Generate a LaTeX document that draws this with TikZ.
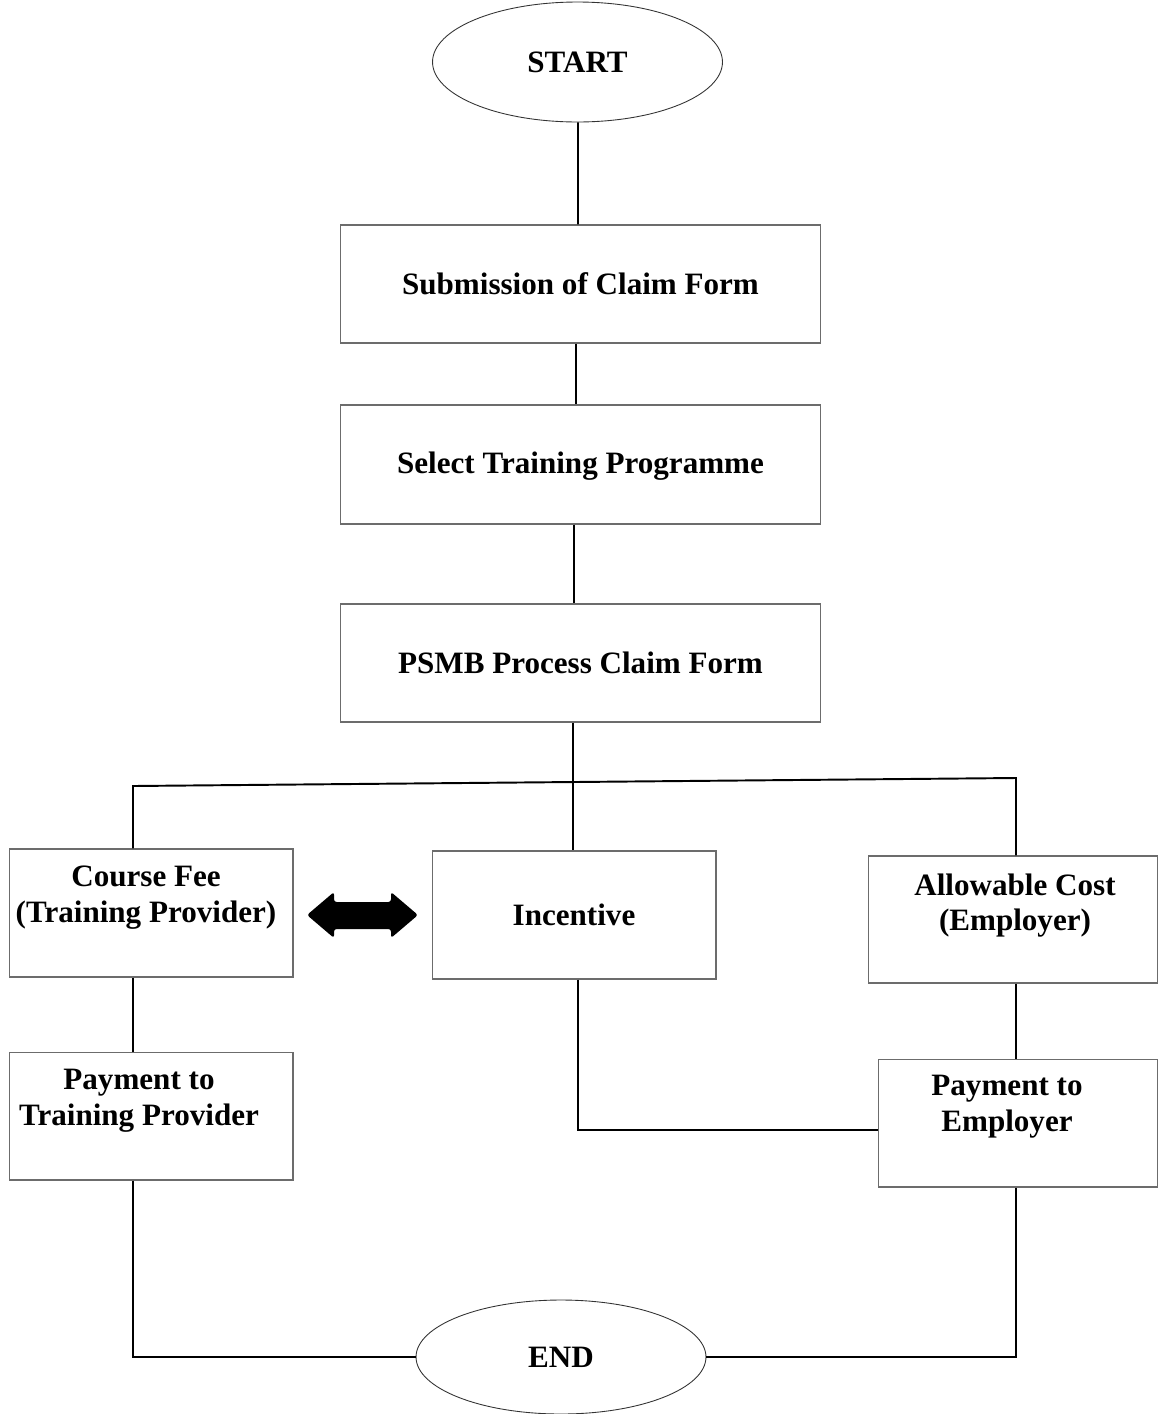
\documentclass[tikz,border=0pt]{standalone}
\usepackage{fontspec}
\setmainfont{Liberation Serif}
\usetikzlibrary{shapes.geometric}
\begin{document}
\begin{tikzpicture}[x=0.02cm,y=-0.02cm,
  txt/.style={font=\bfseries\fontsize{17.7}{20.4}\selectfont, align=center},
  box/.style={draw=gray!85!black, line width=0.6pt, inner sep=0pt},
  term/.style={ellipse, draw=black!80, line width=0.5pt, minimum width=5.8cm, inner sep=0pt},
  wire/.style={line width=1.1pt}]
\useasboundingbox (0,0) rectangle (1158,1414);
% start and end
\node[term, txt, minimum height=2.4cm] (start) at (577.5,62) {START};
\node[term, txt, minimum height=2.28cm] (end) at (561,1357) {END};
% main column
\node[box, txt, minimum width=9.62cm, minimum height=2.36cm] (submit) at (580.5,284) {Submission of Claim Form};
\node[box, txt, minimum width=9.62cm, minimum height=2.38cm] (select) at (580.5,464.5) {};
\node[txt] (selecttxt) at ([shift={(0,2)}]select.center) {Select Training Programme};
\node[box, txt, minimum width=9.62cm, minimum height=2.36cm] (process) at (580.5,663) {PSMB Process Claim Form};
% three branches
\node[box, minimum width=5.68cm, minimum height=2.56cm] (fee) at (151,913) {};
\node[box, txt, minimum width=5.68cm, minimum height=2.56cm] (incent) at (574,915) {Incentive};
\node[box, minimum width=5.8cm, minimum height=2.54cm] (allow) at (1013,919.5) {};
\node[box, minimum width=5.68cm, minimum height=2.56cm] (paytp) at (151,1116) {};
\node[box, minimum width=5.6cm, minimum height=2.56cm] (payemp) at (1018,1123) {};
\node[txt] (feetxt) at ([shift={(-5,-15)}]fee.center) {Course Fee\\(Training Provider)};
\node[txt] (allowtxt) at ([shift={(2,-14)}]allow.center) {Allowable Cost\\(Employer)};
\node[txt] (paytptxt) at ([shift={(-12,-15)}]paytp.center) {Payment to\\Training Provider};
\node[txt] (payemptxt) at ([shift={(-11,-16)}]payemp.center) {Payment to\\Employer};
% connectors
\coordinate (brL) at (133,786);
\coordinate (brR) at (1016,778);
\coordinate (payin) at ([shift={(0,7)}]payemp.west);
\draw[wire] ([shift={(0.5,0)}]start.south) -- ([shift={(-2.5,0)}]submit.north);
\draw[wire] ([shift={(-4.5,0)}]submit.south) -- ([shift={(-4.5,0)}]select.north);
\draw[wire] ([shift={(-6.5,0)}]select.south) -- ([shift={(-6.5,0)}]process.north);
\draw[wire] ([shift={(-7.5,0)}]process.south) -- ([shift={(-7.5,0)}]process.south |- incent.north);
\draw[wire] (brL |- fee.north) -- (brL) -- (brR) -- (brR |- allow.north);
\draw[wire] (brL |- fee.south) -- (brL |- paytp.north);
\draw[wire] (brR |- allow.south) -- (brR |- payemp.north);
\draw[wire] ([shift={(4,0)}]incent.south) |- (payin);
\draw[wire] (brL |- paytp.south) |- (end.west);
\draw[wire] (brR |- payemp.south) |- (end.east);
% double arrow between course fee and incentive
\fill[rounded corners=1.5pt] (307,915) -- (334,892) -- (334,902) -- (391,902) -- (391,892)
  -- (418,915) -- (391,938) -- (391,929) -- (334,929) -- (334,938) -- cycle;
\end{tikzpicture}
\end{document}
